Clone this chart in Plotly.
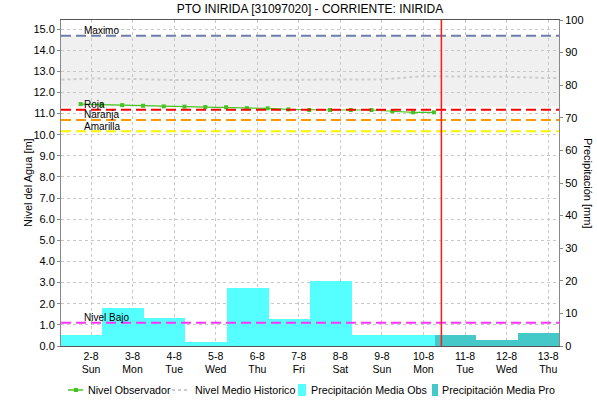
import plotly.graph_objects as go

# ---- data ----
title = 'PTO INIRIDA [31097020] - CORRIENTE: INIRIDA'

obs_times = ['2020-08-01 18:00', '2020-08-02 06:00', '2020-08-02 18:00', '2020-08-03 06:00',
             '2020-08-03 18:00', '2020-08-04 06:00', '2020-08-04 18:00', '2020-08-05 06:00',
             '2020-08-05 18:00', '2020-08-06 06:00', '2020-08-06 18:00', '2020-08-07 06:00',
             '2020-08-07 18:00', '2020-08-08 06:00', '2020-08-08 18:00', '2020-08-09 06:00',
             '2020-08-09 18:00', '2020-08-10 06:00']
obs_level = [11.45, 11.42, 11.40, 11.37, 11.34, 11.33, 11.31, 11.30, 11.26,
             11.25, 11.20, 11.17, 11.17, 11.17, 11.17, 11.11, 11.06, 11.06]

hist_times = ['2020-08-01', '2020-08-02', '2020-08-03', '2020-08-04', '2020-08-05',
              '2020-08-06', '2020-08-07', '2020-08-08', '2020-08-09', '2020-08-10',
              '2020-08-11', '2020-08-12', '2020-08-13', '2020-08-14']
hist_level = [12.59, 12.66, 12.64, 12.59, 12.59, 12.59, 12.61, 12.62, 12.62,
              12.77, 12.75, 12.74, 12.68, 12.68]

precip_obs_start = ['2020-08-01 06:30', '2020-08-02 06:30', '2020-08-03 06:30',
                    '2020-08-04 06:30', '2020-08-05 06:30', '2020-08-06 06:30',
                    '2020-08-07 06:30', '2020-08-08 06:30', '2020-08-09 06:30']
precip_obs = [3.4, 11.7, 8.5, 1.3, 17.9, 8.3, 20.0, 3.4, 3.4]

precip_pro_start = ['2020-08-10 06:30', '2020-08-11 06:30', '2020-08-12 06:30']
precip_pro = [3.4, 1.8, 4.1]

tick_days = ['2020-08-02', '2020-08-03', '2020-08-04', '2020-08-05', '2020-08-06', '2020-08-07',
             '2020-08-08', '2020-08-09', '2020-08-10', '2020-08-11', '2020-08-12', '2020-08-13']
tick_labels = ['2-8<br>Sun', '3-8<br>Mon', '4-8<br>Tue', '5-8<br>Wed', '6-8<br>Thu', '7-8<br>Fri',
               '8-8<br>Sat', '9-8<br>Sun', '10-8<br>Mon', '11-8<br>Tue', '12-8<br>Wed', '13-8<br>Thu']

threshold_names = ['Maximo', 'Roja', 'Naranja', 'Amarilla', 'Nivel Bajo']
threshold_values = [14.68, 11.18, 10.70, 10.17, 1.10]
threshold_colors = ['#6f7ea8', '#ff0000', '#ff9900', '#f5f500', '#ff33ff']

band_low, band_high = 11.32, 14.68
now_time = '2020-08-10 10:20'

x_range = ['2020-08-01 06:40', '2020-08-13 06:15']
day_ms = 86400000

font = 'Liberation Sans'
green = '#44c422'
hist_grey = '#cccccc'
cyan = '#55ffff'
teal = '#44c8c8'

# plot area in px (597x400 page): left 61, right 559, top 20, bottom 346
L, R, T, B = 61, 559, 20, 346


def px_x(x):
    return (x - L) / (R - L)


def px_y(y):
    return (B - y) / (B - T)


fig = go.Figure()

fig.add_trace(go.Bar(x=precip_obs_start, y=precip_obs, width=[day_ms] * len(precip_obs), offset=0,
                     marker_color=cyan, marker_line_width=0, yaxis='y2',
                     name='Precipitación Media Obs', showlegend=False))
fig.add_trace(go.Bar(x=precip_pro_start, y=precip_pro, width=[day_ms] * len(precip_pro), offset=0,
                     marker_color=teal, marker_line_width=0, yaxis='y2',
                     name='Precipitación Media Pro', showlegend=False))

fig.add_trace(go.Scatter(x=hist_times, y=hist_level, mode='lines',
                         line=dict(color=hist_grey, width=2, dash='dot'),
                         name='Nivel Medio Historico', showlegend=False))
fig.add_trace(go.Scatter(x=obs_times, y=obs_level, mode='lines+markers',
                         line=dict(color=green, width=1.2),
                         marker=dict(symbol='square', size=4, color=green),
                         name='Nivel Observador', showlegend=False))

shapes = []
annotations = []

# grey band
shapes.append(dict(type='rect', xref='paper', x0=0, x1=1, yref='y', y0=band_low, y1=band_high,
                   fillcolor='#f0f0f0', line_width=0, layer='below'))

# threshold lines and labels
for name, val, col in zip(threshold_names, threshold_values, threshold_colors):
    shapes.append(dict(type='line', xref='paper', x0=0, x1=1, yref='y', y0=val, y1=val,
                       line=dict(color=col, width=2, dash='10px,5px'), layer='above'))
    annotations.append(dict(text=name, xref='paper', x=px_x(82), xanchor='left',
                            yref='y', y=val, yanchor='middle', yshift=5, showarrow=False,
                            font=dict(size=10, color='black', family=font)))

# current time marker
shapes.append(dict(type='line', xref='x', x0=now_time, x1=now_time, yref='paper', y0=0, y1=1,
                   line=dict(color='#ff1a1a', width=1.5), layer='above'))

# axis titles
annotations.append(dict(text='Nivel del Agua [m]', xref='paper', x=px_x(28), xanchor='center',
                        yref='paper', y=0.5, yanchor='middle', textangle=-90, showarrow=False,
                        font=dict(size=11, color='black', family=font)))
annotations.append(dict(text='Precipitación [mm]', xref='paper', x=px_x(588), xanchor='center',
                        yref='paper', y=0.5, yanchor='middle', textangle=90, showarrow=False,
                        font=dict(size=11, color='black', family=font)))

# legend drawn by hand to keep the compact layout of the original
leg_y = px_y(390)
shapes.append(dict(type='line', xref='paper', yref='paper', x0=px_x(68), x1=px_x(83), y0=leg_y, y1=leg_y,
                   line=dict(color=green, width=1.5)))
shapes.append(dict(type='rect', xref='paper', yref='paper', x0=px_x(74), x1=px_x(78),
                   y0=px_y(392), y1=px_y(388), fillcolor=green, line_width=0))
shapes.append(dict(type='line', xref='paper', yref='paper', x0=px_x(172), x1=px_x(190), y0=leg_y, y1=leg_y,
                   line=dict(color=hist_grey, width=2, dash='dot')))
shapes.append(dict(type='rect', xref='paper', yref='paper', x0=px_x(298), x1=px_x(306),
                   y0=px_y(396), y1=px_y(384), fillcolor=cyan, line_width=0))
shapes.append(dict(type='rect', xref='paper', yref='paper', x0=px_x(432), x1=px_x(438),
                   y0=px_y(396), y1=px_y(384), fillcolor=teal, line_width=0))
for text, x in [('Nivel Observador', 86), ('Nivel Medio Historico', 193),
                ('Precipitación Media Obs', 309), ('Precipitación Media Pro', 440)]:
    annotations.append(dict(text=text, xref='paper', x=px_x(x), xanchor='left',
                            yref='paper', y=leg_y, yanchor='middle', showarrow=False,
                            font=dict(size=10.7, color='black', family=font)))

fig.update_layout(
    width=597, height=400,
    margin=dict(l=L, r=597 - R, t=T, b=400 - B),
    paper_bgcolor='white',
    plot_bgcolor='white',
    font=dict(family=font, size=11, color='black'),
    title=dict(text=title, x=0.5, xref='paper', xanchor='center', y=1 - 9 / 400, yref='container',
               yanchor='middle', font=dict(size=12, color='black', family=font)),
    showlegend=False,
    bargap=0,
    barmode='overlay',
    shapes=shapes,
    annotations=annotations,
    xaxis=dict(type='date', range=x_range, tickmode='array', tickvals=tick_days, ticktext=tick_labels,
               showgrid=True, gridcolor='#c8c8c8', griddash='dot', gridwidth=1,
               showline=True, linecolor='#555555', linewidth=1, mirror=True,
               ticks='', tickfont=dict(size=10.5), zeroline=False),
    yaxis=dict(range=[0, 15.43], dtick=1, tick0=0, tickformat='.1f',
               showgrid=True, gridcolor='#c8c8c8', griddash='dot', gridwidth=1,
               showline=True, linecolor='#888888', ticks='outside', ticklen=3, tickcolor='#888888',
               zeroline=False, tickfont=dict(size=11)),
    yaxis2=dict(range=[0, 100], dtick=10, tick0=0, overlaying='y', side='right',
                showgrid=False, showline=True, linecolor='#888888', ticks='outside', ticklen=3,
                tickcolor='#888888', zeroline=False, tickfont=dict(size=11)),
)

# the page's default body margin would shift the 597x400 figure out of the window
fig.write_html('out.html', config={'displayModeBar': False},
               post_script="document.body.style.margin = '0';")
